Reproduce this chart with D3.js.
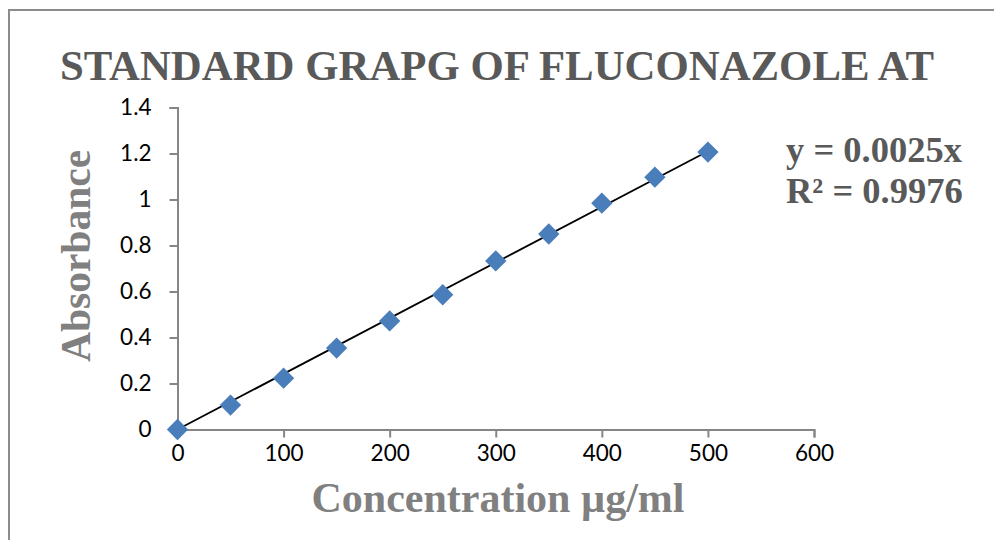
<!DOCTYPE html>
<html>
<head>
<meta charset="utf-8">
<script src="https://cdn.jsdelivr.net/npm/d3@7"></script>
<style>
  body { margin: 0; background: #fff; }
  svg { display: block; }
</style>
</head>
<body>
<div id="chart"></div>
<script>
// data
var conc = [0, 50, 100, 150, 200, 250, 300, 350, 400, 450, 500];
var absorb = [0, 0.106, 0.223, 0.354, 0.472, 0.586, 0.733, 0.850, 0.984, 1.097, 1.206];
var xTicks = [0, 100, 200, 300, 400, 500, 600];
var yTicks = [0, 0.2, 0.4, 0.6, 0.8, 1, 1.2, 1.4];
var eqLines = ["y = 0.0025x", "R\u00B2 = 0.9976"];

var width = 994, height = 540;

var svg = d3.select("#chart").append("svg")
    .attr("width", width)
    .attr("height", height);

// outer frame (right and bottom sit off the picture)
svg.append("rect")
    .attr("x", 9).attr("y", 10)
    .attr("width", 1000).attr("height", 600)
    .attr("fill", "none")
    .attr("stroke", "#8c8c8c")
    .attr("stroke-width", 2);

var x = d3.scaleLinear().domain([0, 600]).range([177.5, 814]);
var y = d3.scaleLinear().domain([0, 1.4]).range([429.5, 107.5]);

// axes
var xAxis = svg.append("g")
    .attr("transform", "translate(0," + y(0) + ")")
    .call(d3.axisBottom(x).tickValues(xTicks).tickSize(8).tickPadding(8).tickFormat(d3.format("d")));
var yAxis = svg.append("g")
    .attr("transform", "translate(" + x(0) + ",0)")
    .call(d3.axisLeft(y).tickValues(yTicks).tickSize(8).tickPadding(18).tickFormat(function(d) { return d3.format("")(+d.toFixed(1)); }));

[xAxis, yAxis].forEach(function(g) {
  g.select(".domain").attr("stroke", "#868686").attr("stroke-width", 2);
  g.selectAll(".tick line").attr("stroke", "#868686").attr("stroke-width", 2);
  g.selectAll(".tick text")
    .attr("fill", "#000")
    .style("font-family", "Lato, 'Open Sans', sans-serif")
    .style("font-size", "22.5px");
});

// trendline through origin (least squares)
var sxy = d3.sum(conc, function(d, i) { return d * absorb[i]; });
var sxx = d3.sum(conc, function(d) { return d * d; });
var slope = sxy / sxx;
svg.append("line")
    .attr("x1", x(0)).attr("y1", y(0))
    .attr("x2", x(500)).attr("y2", y(slope * 500))
    .attr("stroke", "#000")
    .attr("stroke-width", 1.8);

// diamond markers
var diamond = d3.symbol().type(d3.symbolDiamond2).size(290);
svg.selectAll(".pt")
    .data(conc)
  .enter().append("path")
    .attr("class", "pt")
    .attr("d", diamond)
    .attr("transform", function(d, i) { return "translate(" + x(d) + "," + y(absorb[i]) + ")"; })
    .attr("fill", "#4a7ebb");

// title
svg.append("text")
    .attr("x", 497).attr("y", 80)
    .attr("text-anchor", "middle")
    .style("font-family", "'Liberation Serif', 'Times New Roman', serif")
    .style("font-weight", "bold")
    .style("font-size", "42.8px")
    .attr("fill", "#595959")
    .text("STANDARD GRAPG OF FLUCONAZOLE AT");

// axis titles
svg.append("text")
    .attr("x", 498).attr("y", 512)
    .attr("text-anchor", "middle")
    .style("font-family", "'Liberation Serif', 'Times New Roman', serif")
    .style("font-weight", "bold")
    .style("font-size", "42px")
    .attr("fill", "#808080")
    .text("Concentration \u00B5g/ml");

svg.append("text")
    .attr("transform", "translate(90,256) rotate(-90)")
    .attr("text-anchor", "middle")
    .style("font-family", "'Liberation Serif', 'Times New Roman', serif")
    .style("font-weight", "bold")
    .style("font-size", "41.5px")
    .attr("fill", "#808080")
    .text("Absorbance");

// equation label
svg.selectAll(".eq")
    .data(eqLines)
  .enter().append("text")
    .attr("class", "eq")
    .attr("x", 786)
    .attr("y", function(d, i) { return 162 + i * 41; })
    .style("font-family", "'Liberation Serif', 'Times New Roman', serif")
    .style("font-weight", "bold")
    .style("font-size", "36.5px")
    .attr("fill", "#595959")
    .text(function(d) { return d; });
</script>
</body>
</html>
